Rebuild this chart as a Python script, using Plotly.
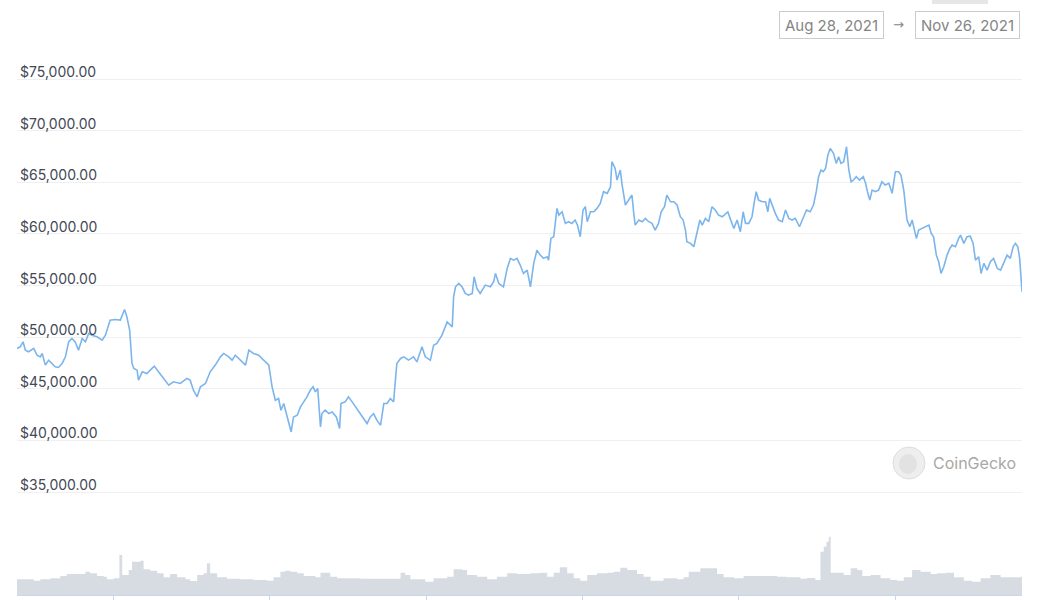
import pandas as pd
import plotly.graph_objects as go

# ---------------- data ----------------
START = "2021-08-28 00:00"

price_hours = [
    9, 16, 22, 27, 34, 45, 52, 59, 63, 70, 77, 84, 91, 98, 106, 113, 120, 127, 134, 141,
    149, 156, 163, 170, 181, 192, 199, 209, 220, 231, 240, 245, 251, 256, 260, 267, 270, 278, 288, 299,
    304, 313, 324, 335, 345, 360, 374, 381, 388, 396, 403, 414, 424, 435, 446, 453, 464, 471, 478, 489,
    500, 507, 517, 528, 539, 550, 557, 564, 571, 576, 582, 588, 593, 598, 603, 611, 618, 625, 632, 639,
    645, 650, 655, 661, 664, 671, 679, 686, 695, 702, 705, 714, 721, 729, 736, 743, 750, 761, 768, 775,
    782, 790, 797, 804, 811, 818, 825, 833, 840, 850, 861, 868, 879, 886, 897, 904, 911, 922, 933, 944,
    947, 951, 958, 965, 972, 979, 987, 991, 997, 1004, 1015, 1026, 1033, 1037, 1044, 1054, 1062, 1069, 1076, 1083,
    1090, 1097, 1105, 1112, 1119, 1126, 1133, 1140, 1148, 1151, 1156, 1162, 1169, 1173, 1180, 1187, 1194, 1201, 1208, 1213,
    1219, 1225, 1230, 1234, 1241, 1248, 1255, 1262, 1269, 1277, 1284, 1287, 1294, 1298, 1305, 1309, 1316, 1323, 1330, 1334,
    1337, 1345, 1352, 1359, 1366, 1373, 1380, 1387, 1393, 1400, 1405, 1413, 1420, 1427, 1434, 1440, 1445, 1448, 1456, 1463,
    1470, 1476, 1481, 1488, 1495, 1502, 1509, 1516, 1524, 1531, 1536, 1541, 1549, 1556, 1563, 1569, 1574, 1581, 1588, 1593,
    1597, 1602, 1610, 1617, 1622, 1626, 1631, 1638, 1645, 1653, 1660, 1667, 1674, 1681, 1690, 1698, 1705, 1713, 1720, 1726,
    1731, 1736, 1741, 1746, 1751, 1756, 1763, 1769, 1774, 1779, 1785, 1791, 1796, 1801, 1806, 1812, 1819, 1827, 1832, 1836,
    1841, 1846, 1853, 1860, 1867, 1874, 1882, 1889, 1896, 1903, 1908, 1914, 1921, 1927, 1932, 1937, 1941, 1946, 1953, 1960,
    1968, 1973, 1978, 1984, 1989, 1994, 2000, 2007, 2013, 2018, 2025, 2032, 2036, 2043, 2050, 2057, 2063, 2068, 2075, 2080,
    2086, 2093, 2100, 2107, 2115, 2122, 2129, 2136, 2143, 2149, 2154, 2159, 2163, 2168,
]

price_usd = [
    48905, 49060, 49545, 48740, 48580, 48905, 48255, 48090, 48420, 47290, 47770, 47450, 47125, 47060, 47450, 48090, 49545, 49870, 49545, 48740,
    49870, 49545, 50355, 50190, 50030, 49710, 50190, 51645, 51710, 51645, 52680, 51970, 50680, 47450, 46970, 46800, 45835, 46640, 46480, 46970,
    47190, 46640, 46000, 45350, 45670, 45510, 46000, 45835, 44860, 44215, 45185, 45510, 46640, 47290, 48090, 48420, 48090, 47770, 48255, 47770,
    47290, 48740, 48420, 48255, 47770, 47290, 45185, 43890, 44050, 42920, 43570, 42600, 41630, 40815, 42270, 42440, 43245, 43730, 44215, 44860,
    45185, 44700, 45025, 41305, 42600, 42925, 42600, 42760, 42275, 41150, 43570, 43730, 44215, 43730, 43245, 42760, 42275, 41630, 42275, 42600,
    41955, 41470, 43570, 43570, 44050, 43730, 47450, 47935, 48090, 47770, 48090, 47600, 49060, 48090, 47770, 49220, 49385, 50190, 51480, 50995,
    53900, 54875, 55200, 54875, 54230, 54070, 54230, 55850, 54720, 54230, 55040, 54875, 55360, 56170, 55200, 54875, 56655, 57625, 57460, 57625,
    56980, 56170, 56490, 54875, 57140, 58430, 57945, 57625, 57785, 57460, 59560, 59720, 62470, 61820, 62140, 61015, 61180, 61015, 61340, 60850,
    59720, 62310, 62630, 61180, 62140, 62140, 62470, 62955, 64085, 63925, 64570, 66990, 66345, 65215, 66180, 64730, 62795, 63275, 63760, 61985,
    60850, 61340, 61180, 61500, 61180, 61015, 60370, 61015, 62140, 62630, 63760, 63110, 63110, 62795, 61660, 61340, 60370, 59240, 59080, 58755,
    60050, 61340, 60850, 61500, 61180, 62630, 62310, 61820, 61660, 61985, 62140, 61500, 60530, 61340, 60210, 62140, 61015, 61015, 61660, 63110,
    64085, 63275, 63110, 63110, 62140, 63440, 62795, 61985, 61340, 61180, 62310, 61500, 61340, 61500, 60690, 61660, 62310, 62140, 62795, 64085,
    65540, 66180, 66020, 66345, 67635, 68280, 67800, 66830, 67470, 66830, 66990, 68440, 66180, 65050, 65215, 65540, 65215, 65540, 64895, 64085,
    63275, 64245, 64085, 64245, 65050, 64730, 64895, 63925, 66020, 66020, 65700, 64245, 61340, 60690, 61340, 60370, 59560, 60370, 60530, 60690,
    60850, 60050, 59720, 57945, 57300, 56170, 56815, 57945, 58590, 58915, 58755, 59560, 59880, 59080, 59720, 59785, 59080, 57460, 57785, 56170,
    57140, 56490, 57300, 57625, 56655, 56490, 57140, 57945, 57625, 58755, 59080, 58755, 57625, 54390,
]

vol_hours = [
    9, 38, 45, 59, 81, 102, 116, 138, 156, 166, 181, 195, 202, 217, 229, 235, 249, 256, 274, 281,
    295, 310, 324, 338, 353, 371, 381, 396, 410, 417, 424, 439, 460, 489, 517, 546, 560, 575, 585, 596,
    611, 625, 639, 650, 661, 675, 682, 697, 718, 747, 790, 833, 843, 854, 868, 886, 904, 933, 947, 965,
    976, 997, 1019, 1040, 1062, 1083, 1112, 1133, 1148, 1162, 1175, 1191, 1205, 1219, 1234, 1255, 1277, 1291, 1305, 1320,
    1341, 1355, 1370, 1398, 1427, 1441, 1452, 1470, 1477, 1506, 1513, 1527, 1549, 1570, 1592, 1613, 1642, 1663, 1692, 1706,
    1724, 1735, 1742, 1748, 1753, 1757, 1771, 1785, 1800, 1814, 1825, 1843, 1864, 1885, 1900, 1914, 1932, 1950, 1972, 1986,
    2004, 2022, 2043, 2061, 2079, 2100, 2122, 2147, 2165, 2168,
]

vol_busd = [
    28.3, 28.3, 25.7, 28.3, 30.0, 34.2, 37.8, 37.8, 42.0, 39.0, 34.2, 33.0, 28.3, 30.0, 72.0, 36.0, 45.0, 60.0, 61.7, 46.3,
    43.7, 39.0, 31.8, 37.8, 31.8, 28.3, 25.2, 36.0, 39.0, 57.0, 39.0, 31.8, 29.3, 28.3, 27.0, 25.7, 31.8, 42.0, 43.7, 42.0,
    39.0, 34.2, 34.2, 31.8, 40.0, 40.0, 33.0, 30.0, 30.0, 29.3, 29.3, 40.0, 36.0, 28.3, 28.3, 24.0, 30.0, 33.0, 46.3, 45.0,
    36.0, 33.0, 28.3, 33.0, 39.0, 37.8, 39.0, 40.0, 33.0, 40.0, 49.9, 39.0, 30.0, 25.7, 36.0, 39.0, 40.0, 42.0, 49.0, 45.0,
    37.8, 33.0, 25.7, 30.0, 28.3, 31.8, 42.0, 42.0, 48.0, 48.0, 37.8, 31.8, 30.0, 34.2, 34.2, 34.2, 33.0, 31.8, 29.3, 30.6,
    27.0, 78.0, 87.0, 96.0, 105.0, 40.0, 40.0, 36.0, 48.0, 45.0, 34.2, 36.0, 30.0, 27.0, 25.7, 31.8, 45.0, 42.0, 37.8, 39.0,
    40.0, 31.8, 25.7, 24.0, 30.0, 36.0, 31.8, 31.8, 33.0, 39.0,
]

y_ticks = [35000, 40000, 45000, 50000, 55000, 60000, 65000, 70000, 75000]
y_tick_labels = ["$35,000.00", "$40,000.00", "$45,000.00", "$50,000.00", "$55,000.00",
                 "$60,000.00", "$65,000.00", "$70,000.00", "$75,000.00"]
x_ticks = ["2021-09-06", "2021-09-20", "2021-10-04", "2021-10-18", "2021-11-01", "2021-11-15"]
date_from_label = "Aug 28, 2021"
date_to_label = "Nov 26, 2021"
watermark = "CoinGecko"

# ---------------- build ----------------
t0 = pd.Timestamp(START)
price_dates = t0 + pd.to_timedelta(price_hours, unit="h")
vol_dates = t0 + pd.to_timedelta(vol_hours, unit="h")

W, H = 1050, 600
PL, PR, PT, PB = 17, 1022, 55, 595          # plot area edges in window pixels
ML, MR, MT, MB = PL, W - PR, PT, H - PB


def px_x(px):
    return (px - PL) / (PR - PL)


def px_y(py):
    return (PB - py) / (PB - PT)


fig = go.Figure()

fig.add_trace(go.Scatter(
    x=vol_dates, y=vol_busd, mode="lines",
    line=dict(width=0, shape="hv", color="#d3d7de"),
    fill="tozeroy", fillcolor="#d7dbe2",
    yaxis="y2", hoverinfo="skip", showlegend=False,
))

fig.add_trace(go.Scatter(
    x=price_dates, y=price_usd, mode="lines",
    line=dict(color="#7cb5ec", width=1.6),
    showlegend=False,
))

label_font = dict(family="Inter, Liberation Sans, sans-serif", size=14, color="#434856")

fig.update_layout(
    width=W, height=H,
    margin=dict(l=ML, r=MR, t=MT, b=MB, autoexpand=False),
    paper_bgcolor="white", plot_bgcolor="white",
    xaxis=dict(
        type="date", automargin=False,
        range=[price_dates[0], price_dates[-1]],
        showgrid=False, zeroline=False,
        showline=True, linecolor="#ccd6eb", linewidth=1,
        ticks="outside", ticklen=10, tickcolor="#ccd6eb", tickwidth=1,
        tickvals=x_ticks, showticklabels=False,
    ),
    yaxis=dict(
        automargin=False,
        range=[25024, 77325],
        tickvals=y_ticks, ticktext=y_tick_labels,
        ticklabelposition="inside top",
        tickfont=label_font,
        showgrid=True, gridcolor="#f0f0f0", gridwidth=1,
        zeroline=False, showline=False, ticks="",
    ),
    yaxis2=dict(
        overlaying="y", range=[0, 972], visible=False, automargin=False,
    ),
)

# nudge the price labels down a little, closer to their gridlines, as in the reference
try:
    fig.layout.yaxis.ticklabelshift = 3
except Exception:
    pass

box_font = dict(family="Inter, Liberation Sans, sans-serif", size=15, color="#858585")
fig.add_annotation(
    x=px_x(831.5), y=px_y(25), xref="paper", yref="paper",
    text=date_from_label, showarrow=False, font=box_font,
    xanchor="center", yanchor="middle",
    bordercolor="#cccccc", borderwidth=1, borderpad=3, width=97, height=20,
)
fig.add_annotation(
    x=px_x(898), y=px_y(25), xref="paper", yref="paper",
    text="→", showarrow=False, font=dict(family="DejaVu Sans", size=13, color="#888888"),
    xanchor="center", yanchor="middle",
)
fig.add_annotation(
    x=px_x(967.5), y=px_y(25), xref="paper", yref="paper",
    text=date_to_label, showarrow=False, font=box_font,
    xanchor="center", yanchor="middle",
    bordercolor="#cccccc", borderwidth=1, borderpad=3, width=97, height=20,
)

# top grey button fragment
fig.add_shape(type="rect", xref="paper", yref="paper",
              x0=px_x(932), x1=px_x(988), y0=px_y(4), y1=px_y(0),
              fillcolor="#e6e6e6", line=dict(width=0), layer="above")

# CoinGecko watermark
fig.add_shape(type="circle", xref="paper", yref="paper",
              x0=px_x(893), x1=px_x(925), y0=px_y(479), y1=px_y(447),
              fillcolor="#eeeeee", line=dict(color="#dddddd", width=1), layer="above")
fig.add_shape(type="circle", xref="paper", yref="paper",
              x0=px_x(899), x1=px_x(917), y0=px_y(474), y1=px_y(454),
              fillcolor="#e2e2e2", line=dict(width=0), layer="above")
fig.add_annotation(
    x=px_x(931), y=px_y(463), xref="paper", yref="paper",
    text=watermark, showarrow=False,
    font=dict(family="Inter, Liberation Sans, sans-serif", size=16, color="#a8a8a8"),
    xanchor="left", yanchor="middle",
)

# pin the page to exactly the figure size (no default body margin, no overflow)
PAGE_JS = (
    "var h=document.documentElement,b=document.body;"
    "[h,b].forEach(function(e){e.style.margin='0';e.style.padding='0';"
    "e.style.overflow='hidden';e.style.height='600px';e.style.width='1050px';});"
)
fig.write_html("out.html", config={"displayModeBar": False}, post_script=PAGE_JS)
